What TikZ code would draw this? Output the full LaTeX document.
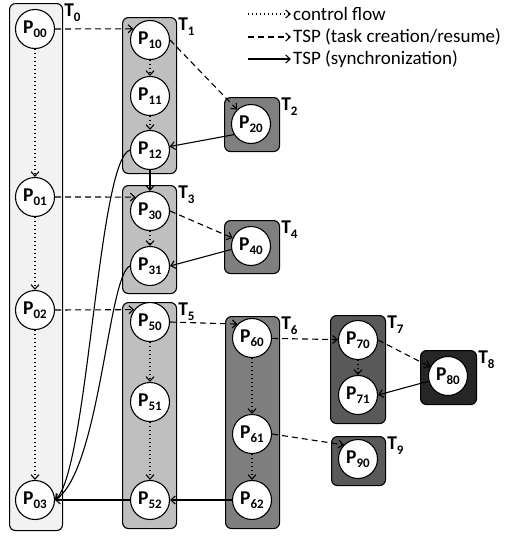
\documentclass[tikz,border=0pt]{standalone}
\usepackage{fontspec}
\setmainfont{Carlito}
\usetikzlibrary{shapes,arrows,arrows.meta,positioning}

\definecolor{tzero}{HTML}{F2F2F2}
\definecolor{tlight}{HTML}{BFBFBF}
\definecolor{tmid}{HTML}{7F7F7F}
\definecolor{tdark}{HTML}{595959}
\definecolor{tblack}{HTML}{262626}

\newcommand{\pn}[2]{\textbf{#1\raisebox{-0.45ex}{\fontsize{13}{13}\selectfont #2}}}

\tikzset{
	tip/.style={-{Straight Barb[length=4.5pt,width=8pt]}},
	proc/.style={shape=circle, draw, fill=white, line width=1.1pt, minimum size=39pt, inner sep=0pt, font=\fontsize{19.5}{21}\selectfont},
	task/.style={draw, line width=1.1pt, rounded corners=6pt, anchor=north west, minimum width=54pt, inner sep=0pt},
	tname/.style={anchor=north west, inner sep=1pt, font=\fontsize{19.5}{21}\selectfont},
	key/.style={anchor=west, inner sep=0pt, font=\fontsize{19}{21}\selectfont},
	ctrl/.style={tip, dash pattern=on 1.2pt off 2.8pt, line width=1.1pt},
	spawn/.style={tip, dash pattern=on 6pt off 4pt, line width=1.1pt},
	sync/.style={tip, line width=1.1pt}
}

\begin{document}
\begin{tikzpicture}[x=1pt, y=-1pt]
	\useasboundingbox (0,0) rectangle (506,536);

	\node[task, fill=tzero, minimum width=53pt, minimum height=527pt] (T0) at (9,3) {};
	\node[task, fill=tlight, minimum height=156pt] (T1) at (122,17) {};
	\node[task, fill=tmid, minimum width=55pt, minimum height=54pt] (T2) at (224,97) {};
	\node[task, fill=tlight, minimum height=108pt] (T3) at (122,185) {};
	\node[task, fill=tmid, minimum width=55pt, minimum height=53pt] (T4) at (224,220) {};
	\node[task, fill=tlight, minimum height=226pt] (T5) at (122,302) {};
	\node[task, fill=tmid, minimum height=212pt] (T6) at (225,316) {};
	\node[task, fill=tdark, minimum width=55pt, minimum height=108pt] (T7) at (330,315) {};
	\node[task, fill=tblack, minimum width=56pt, minimum height=54pt] (T8) at (420,350) {};
	\node[task, fill=tdark, minimum height=49pt] (T9) at (331,436) {};

	\node[tname] (T0name) at (T0.north east) {\pn{T}{0}};
	\node[tname] (T1name) at (T1.north east) {\pn{T}{1}};
	\node[tname] (T2name) at (T2.north east) {\pn{T}{2}};
	\node[tname] (T3name) at (T3.north east) {\pn{T}{3}};
	\node[tname] (T4name) at (T4.north east) {\pn{T}{4}};
	\node[tname] (T5name) at (T5.north east) {\pn{T}{5}};
	\node[tname] (T6name) at (T6.north east) {\pn{T}{6}};
	\node[tname] (T7name) at (T7.north east) {\pn{T}{7}};
	\node[tname] (T8name) at (T8.north east) {\pn{T}{8}};
	\node[tname] (T9name) at (T9.north east) {\pn{T}{9}};

	\node[proc] (P00) at (35,29) {\pn{P}{00}};
	\node[proc] (P01) at (35,197) {\pn{P}{01}};
	\node[proc] (P02) at (35,310) {\pn{P}{02}};
	\node[proc] (P03) at (35,500) {\pn{P}{03}};
	\node[proc] (P10) at (150,40) {\pn{P}{10}};
	\node[proc] (P11) at (150,96) {\pn{P}{11}};
	\node[proc] (P12) at (150,150) {\pn{P}{12}};
	\node[proc] (P20) at (251,124) {\pn{P}{20}};
	\node[proc] (P30) at (150,211) {\pn{P}{30}};
	\node[proc] (P31) at (150,266) {\pn{P}{31}};
	\node[proc] (P40) at (251,246) {\pn{P}{40}};
	\node[proc] (P50) at (150,322) {\pn{P}{50}};
	\node[proc] (P51) at (150,402) {\pn{P}{51}};
	\node[proc] (P52) at (150,500) {\pn{P}{52}};
	\node[proc] (P60) at (252,338) {\pn{P}{60}};
	\node[proc] (P61) at (252,434) {\pn{P}{61}};
	\node[proc] (P62) at (252,500) {\pn{P}{62}};
	\node[proc] (P70) at (358,340) {\pn{P}{70}};
	\node[proc] (P71) at (358,395) {\pn{P}{71}};
	\node[proc] (P80) at (448,376) {\pn{P}{80}};
	\node[proc] (P90) at (358,459) {\pn{P}{90}};

	\path [ctrl]
	(P00) edge (P01)
	(P01) edge (P02)
	(P02) edge (P03)
	(P10) edge (P11)
	(P11) edge (P12)
	(P30) edge (P31)
	(P50) edge (P51)
	(P51) edge (P52)
	(P60) edge (P61)
	(P61) edge (P62)
	(P70) edge (P71);

	\path [spawn]
	(P00.east) edge (P10.146)
	(P01.east) edge (P30.136)
	(P02.east) edge (P50.142)
	(P50.east) edge (P60.136)
	(P60) edge (P70)
	(P61.east) edge (P90.135)
	(P10.east) edge (P20)
	(P30.east) edge (P40)
	(P70.east) edge (P80);

	\path [sync]
	(P20.212) edge (P12.10)
	(P40.190) edge (P31.east)
	(P80.195) edge (P71.east)
	(P12) edge (P30)
	(P62) edge (P52)
	(P52) edge (P03);

	\draw[sync] (P12.west) .. controls (98,160) and (88,470) .. (P03.east);
	\draw[sync] (P31.west) .. controls (108,275) and (100,470) .. (P03.east);

	\coordinate (keyctrl0) at (248,14);
	\coordinate (keyspawn0) at (248,37);
	\coordinate (keysync0) at (248,59);
	\node[key] (keyctrl) at (293,14) {control flow};
	\node[key] (keyspawn) at (293,37) {TSP (task creation/resume)};
	\node[key] (keysync) at (293,59) {TSP (synchronization)};
	\draw[ctrl] (keyctrl0) -- ([xshift=-2pt]keyctrl.west);
	\draw[spawn] (keyspawn0) -- ([xshift=-2pt]keyspawn.west);
	\draw[sync] (keysync0) -- ([xshift=-2pt]keysync.west);
\end{tikzpicture}
\end{document}
